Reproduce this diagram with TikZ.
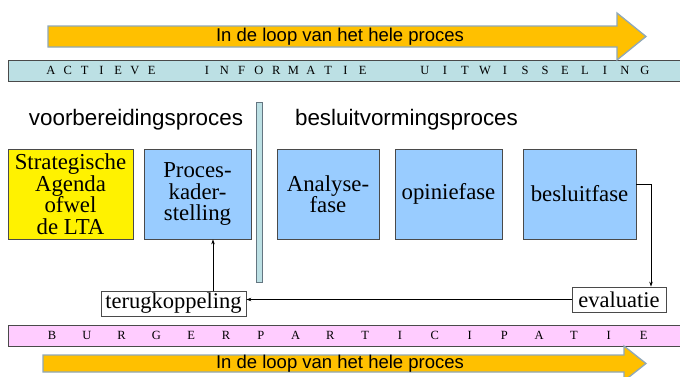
\documentclass[tikz,border=0pt]{standalone}
\usepackage{fontspec}
\setmainfont{Liberation Serif}
\newfontfamily\arialfont{Liberation Sans}
\usetikzlibrary{arrows.meta,calc}
\definecolor{orangefill}{HTML}{FFC000}
\definecolor{arrowedge}{HTML}{8FA8B8}
\definecolor{bandblue}{HTML}{BCE0E4}
\definecolor{bandpink}{HTML}{FFCCFF}
\definecolor{boxblue}{HTML}{99CCFF}
\definecolor{boxedge}{HTML}{4A4A4A}
\tikzset{
  phasebox/.style={draw=boxedge,line width=0.8pt,fill=boxblue,inner sep=0pt,
    minimum height=90pt,align=center,font=\fontsize{22.8}{21.5}\selectfont},
  smallbox/.style={draw=boxedge,line width=0.8pt,fill=white,inner sep=0pt,
    minimum height=25pt,font=\fontsize{22.5}{22}\selectfont},
  heading/.style={anchor=base,font=\arialfont\fontsize{22.4}{22}\selectfont},
  arrowtext/.style={font=\arialfont\fontsize{18.5}{18.5}\selectfont},
  bigarrow/.style={fill=orangefill,draw=arrowedge,line width=1.3pt,line join=miter},
  bandstyle/.style={draw=boxedge,line width=0.8pt},
  bandletter/.style={font=\fontsize{12.5}{12.5}\selectfont,inner sep=0pt},
  conn/.style={draw=black,line width=0.6pt,-{Stealth[length=5pt,width=3.5pt]}},
}
\begin{document}
\begin{tikzpicture}[x=1pt,y=-1pt]
\useasboundingbox (0,0) rectangle (680,376);
\clip (0,0) rectangle (680,376);
% bands
\draw[bandstyle,fill=bandblue] (8,60) rectangle (684,81);
\draw[bandstyle,fill=bandpink] (8,325) rectangle (684,346);
\foreach \l [count=\i from 0] in {A,C,T,I,E,V,E}
  \node[bandletter] (ba\i) at ({51+16.8*\i},70.5) {\l};
\foreach \l [count=\i from 0] in {I,N,F,O,R,M,A,T,I,E}
  \node[bandletter] (bb\i) at ({207+17.3*\i},70.5) {\l};
\foreach \l [count=\i from 0] in {U,I,T,W,I,S,S,E,L,I,N,G}
  \node[bandletter] (bc\i) at ({425+20*\i},70.5) {\l};
\foreach \l [count=\i from 0] in {B,U,R,G,E,R,P,A,R,T,I,C,I,P,A,T,I,E}
  \node[bandletter] (bp\i) at ({52+34.8*\i},335.5) {\l};
% big arrows
\draw[bigarrow] (48,26) -- (617,26) -- (617,13) -- (646,36.5) -- (617,60) -- (617,47) -- (48,47) -- cycle;
\node[arrowtext] (toptext) at (340,37) {In de loop van het hele proces};
\draw[bigarrow] (43,355) -- (624,355) -- (624,346) -- (646,363.5) -- (624,381) -- (624,372) -- (43,372) -- cycle;
\node[arrowtext] (bottext) at (340,364) {In de loop van het hele proces};
% headings
\node[heading] (hvoor) at (136,125.5) {voorbereidingsproces};
\node[heading] (hbes) at (406.5,125.5) {besluitvormingsproces};
% divider bar
\draw[draw=arrowedge!70!black,line width=0.8pt,fill=bandblue] (256,102) rectangle (262,282);
% boxes
\node[phasebox,fill=yellow,minimum width=125pt] (lta) at (70.5,194) {Strategische\\Agenda\\ofwel\\de LTA};
\node[phasebox,minimum width=107pt] (proces) at (197.5,194) {Proces-\\kader-\\stelling};
\node[phasebox,minimum width=102pt] (analyse) at (328,194) {Analyse-\\fase};
\node[phasebox,minimum width=107pt] (opinie) at (448.5,194) {opiniefase};
\node[phasebox,minimum width=113pt] (besluit) at (579.5,194) {besluitfase};
\node[smallbox,minimum width=145pt] (terug) at (173.5,303.5) {terugkoppeling};
\node[smallbox,minimum width=94pt] (eval) at (619,299.5) {evaluatie};
% connectors
\draw[conn] ([yshift=10pt]besluit.east) -| ([xshift=32pt]eval.north);
\draw[conn] (eval.west) -- (eval.west -| terug.east);
\draw[conn] ([xshift=39.5pt]terug.north) -- ([xshift=39.5pt]terug.north |- proces.south);
\end{tikzpicture}
\end{document}
